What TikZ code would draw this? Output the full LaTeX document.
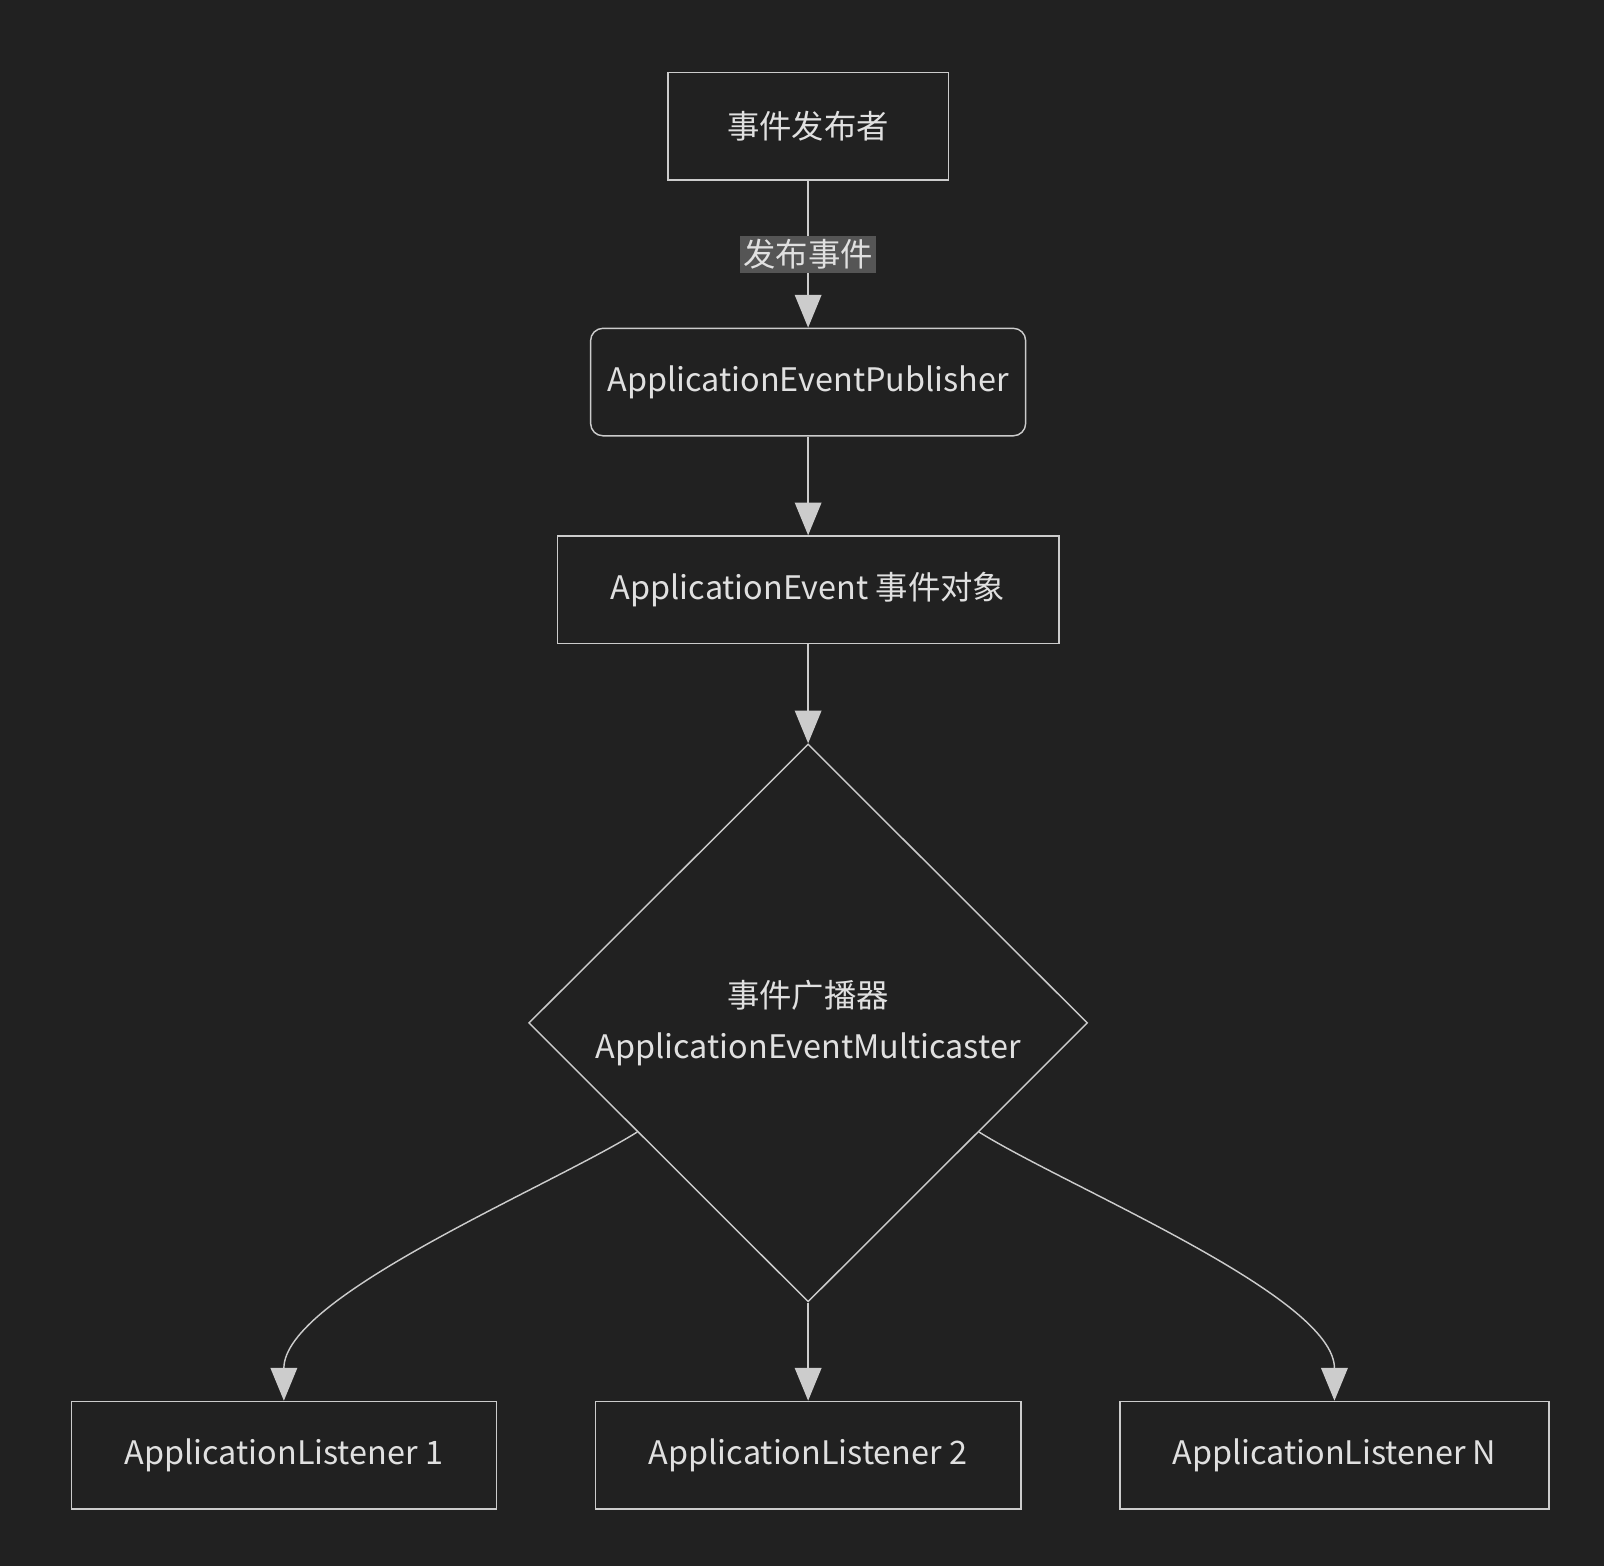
\documentclass[tikz,border=0pt]{standalone}
\usepackage{fontspec}
\setmainfont{Noto Sans CJK SC}
\usetikzlibrary{shapes.geometric, arrows.meta, calc}
\definecolor{bgc}{HTML}{212121}
\definecolor{linec}{HTML}{CCCCCC}
\definecolor{textc}{HTML}{E0E0E0}
\definecolor{lblbg}{HTML}{555555}

\tikzset{
  box/.style={draw=linec, fill=bgc, text=textc, minimum width=#1, minimum height=1.05cm, font=\fontsize{9}{11}\selectfont},
  box/.default=4.9cm,
  flow/.style={draw=linec, -{Triangle[length=3.2mm, width=2.6mm]}},
}

\begin{document}
\begin{tikzpicture}[x=0.01cm, y=-0.01cm]
		% background
		\fill[bgc] (0,0) rectangle (1568,1531);
		\useasboundingbox (0,0) rectangle (1568,1531);

		% Nodes
		\node[box=2.74cm] (pub) at (790,123.5) {事件发布者};
		\node[box=4.25cm, rounded corners=1.2mm] (aep) at (790,373.5) {ApplicationEventPublisher};
		\node[box=4.9cm] (evt) at (790,576.5) {ApplicationEvent 事件对象};
		\node[diamond, draw=linec, fill=bgc, text=textc, inner sep=0pt, minimum width=5.46cm, minimum height=5.45cm, align=center, font=\fontsize{9}{14}\selectfont] (mc) at (790,1000) {事件广播器\\ApplicationEventMulticaster};
		\node[box=4.15cm] (l1) at (277.5,1422.5) {ApplicationListener 1};
		\node[box=4.16cm] (l2) at (790,1422.5) {ApplicationListener 2};
		\node[box=4.19cm] (ln) at (1304.5,1422.5) {ApplicationListener N};

		% Connectors
		\draw[flow] (pub) -- (aep) node[midway, fill=lblbg, text=textc, inner sep=1pt, font=\fontsize{9}{11}\selectfont] {发布事件};
		\draw[flow] (aep) -- (evt);
		\draw[flow] (evt) -- (mc.north);
		\coordinate (mcl) at ($(mc.west)!0.39!(mc.south)$);
		\coordinate (mcr) at ($(mc.east)!0.39!(mc.south)$);
		\draw[flow] (mcl) to[out=-148, in=90, looseness=0.6] (l1.north);
		\draw[flow] (mc.south) -- (l2.north);
		\draw[flow] (mcr) to[out=-32, in=90, looseness=0.6] (ln.north);
	\end{tikzpicture}
\end{document}
